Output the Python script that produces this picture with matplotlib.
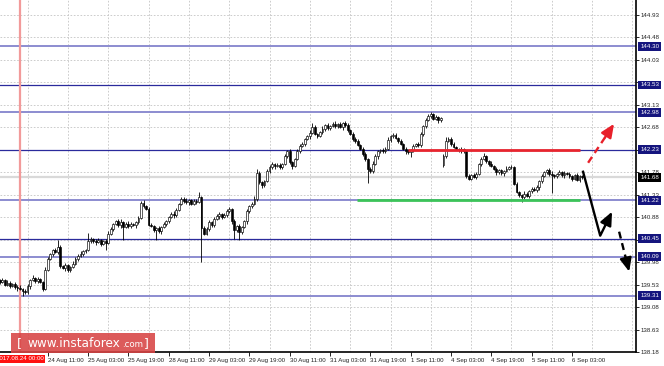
import numpy as np
import matplotlib.pyplot as plt
from matplotlib.patches import Rectangle

# Velas H1, indice 0 = 2017.08.24 00:00
first_index = -8
first_open = 139.62
closes = [
    139.59, 139.63, 139.53, 139.57, 139.51, 139.55, 139.49, 139.47,
    139.45, 139.41, 139.38,
    139.50, 139.62, 139.66, 139.60, 139.64, 139.58,
    139.45,
    139.83, 140.05,
    140.15, 140.22, 140.18, 140.28,
    139.90,
    139.86, 139.92, 139.82, 139.88, 139.95,
    140.05, 140.10, 140.15, 140.20, 140.22, 140.40,
    140.45, 140.40, 140.38, 140.42, 140.35, 140.40, 140.37,
    140.55, 140.65, 140.75, 140.80,
    140.72, 140.78, 140.68, 140.75, 140.70, 140.74, 140.72, 140.78,
    140.87,
    141.17, 141.10, 141.05,
    140.73,
    140.70, 140.62, 140.66, 140.60, 140.68,
    140.75, 140.80, 140.88, 140.95, 140.92, 141.03,
    141.15, 141.25, 141.20, 141.18, 141.22, 141.15, 141.20, 141.18, 141.28,
    140.67,
    140.55, 140.65, 140.78, 140.72, 140.85,
    140.90, 140.95, 140.88, 140.92, 141.00, 141.05,
    140.80, 140.62, 140.70, 140.58,
    140.68, 140.80,
    141.00, 141.10, 141.15, 141.25,
    141.77,
    141.58, 141.52, 141.60,
    141.80, 141.88, 141.95, 141.90, 141.93, 141.88,
    141.95, 142.10, 142.20,
    141.98, 141.90,
    142.05, 142.20, 142.30, 142.35, 142.45, 142.50,
    142.57, 142.69,
    142.55, 142.50, 142.58,
    142.65, 142.72, 142.66, 142.70, 142.75, 142.70, 142.74, 142.68, 142.76, 142.72,
    142.62, 142.55, 142.45, 142.40, 142.32, 142.25,
    142.15, 142.05,
    141.85, 141.80,
    141.95, 142.10, 142.20, 142.22,
    142.20, 142.25,
    142.43, 142.50, 142.52,
    142.47, 142.40, 142.35,
    142.25, 142.20, 142.18, 142.22,
    142.30, 142.35, 142.32,
    142.55, 142.70, 142.82,
    142.90, 142.95,
    142.85, 142.88, 142.82, 142.86,
    142.10,
    142.40, 142.45, 142.35,
    142.28, 142.25, 142.22, 142.24, 142.20,
    141.70,
    141.65, 141.72, 141.68, 141.75,
    141.95, 142.05, 142.10,
    142.00, 141.95, 141.90, 141.85,
    141.78, 141.82, 141.76, 141.80, 141.85, 141.88,
    141.88,
    141.55,
    141.38, 141.32, 141.28, 141.35, 141.30,
    141.40, 141.45, 141.42, 141.48,
    141.60, 141.70, 141.78, 141.82,
    141.75, 141.72, 141.70,
    141.75, 141.78, 141.72, 141.76, 141.74, 141.70,
    141.65, 141.72, 141.62, 141.70, 141.68,
]
# mechas en pips
wick_up = [
    3, 4, 2, 5, 3, 2, 4, 3, 5, 2, 3, 4, 2, 6, 3, 4, 2, 3, 5, 4,
    2, 3, 4, 3, 5, 2, 4, 3, 2, 6, 3, 4, 5, 2, 3, 4, 3, 2, 4, 5,
    3, 2, 4, 5, 3, 2, 3, 4, 6, 2, 3, 5, 4, 3, 2, 4, 3, 5, 2, 3,
    4, 3, 2, 5, 3, 4, 2, 3, 4, 5, 3, 2, 4, 3, 6, 2, 3, 4, 5, 3,
    2, 4, 3, 5, 2, 3, 4, 3, 2, 5, 4, 3, 2, 4, 3, 5, 3, 2, 4, 3,
    3, 5, 2, 4, 3, 2, 4, 5, 3, 2, 3, 4, 2, 5, 3, 4, 3, 2, 5, 4,
    4, 2, 3, 5, 3, 4, 2, 3, 5, 2, 4, 3, 3, 5, 2, 4, 3, 2, 4, 3,
    3, 4, 5, 2, 3, 4, 2, 3, 5, 4, 3, 2, 4, 3, 5, 2, 3, 4, 2, 5,
    2, 3, 4, 3, 5, 2, 4, 3, 2, 4, 5, 3, 2, 4, 3, 3, 5, 2, 4, 3,
    4, 3, 2, 5, 3, 2, 4, 3, 5, 4, 2, 3, 4, 3, 2, 5, 3, 4, 2, 3,
    3, 5, 2, 4, 3, 4, 2, 3, 5, 3, 2, 4, 3, 5, 2, 4, 3, 2, 4, 5,
    3, 2, 4, 3, 5, 2, 4, 3, 2, 4, 3, 2,
]
wick_dn = [
    4, 2, 3, 3, 5, 2, 4, 6, 3, 2, 4, 3, 5, 2, 3, 4, 2, 5, 3, 2,
    3, 5, 2, 4, 3, 2, 5, 3, 4, 2, 3, 4, 2, 5, 3, 2, 4, 3, 5, 2,
    4, 3, 5, 2, 3, 4, 2, 3, 5, 4, 2, 3, 4, 2, 5, 3, 3, 4, 2, 3,
    2, 4, 3, 3, 5, 2, 4, 3, 2, 5, 4, 3, 2, 3, 4, 5, 2, 3, 4, 2,
    5, 3, 2, 4, 3, 4, 2, 5, 3, 2, 4, 3, 5, 2, 3, 4, 3, 2, 5, 3,
    3, 2, 4, 3, 5, 3, 2, 4, 3, 5, 2, 4, 3, 2, 4, 3, 5, 2, 3, 4,
    2, 4, 3, 5, 2, 3, 4, 2, 3, 5, 4, 3, 2, 4, 3, 2, 5, 3, 4, 2,
    4, 3, 2, 3, 5, 4, 2, 3, 4, 2, 5, 3, 3, 4, 2, 5, 3, 2, 4, 3,
    3, 5, 4, 2, 3, 2, 4, 3, 5, 3, 2, 4, 3, 2, 5, 4, 3, 3, 2, 4,
    2, 3, 4, 5, 3, 4, 2, 3, 2, 4, 3, 5, 2, 3, 4, 2, 3, 5, 4, 3,
    5, 2, 3, 4, 3, 2, 4, 5, 3, 2, 4, 3, 2, 3, 5, 4, 2, 3, 4, 3,
    3, 4, 2, 3, 5, 2, 3, 4, 3, 2, 4, 3,
]
gap_opens = {168: 141.92}
spike_highs = {15: 140.43, 27: 140.57, 71: 141.39, 94: 141.85, 116: 142.76,
               129: 142.80, 148: 142.56, 163: 142.99, 169: 142.49, 184: 142.17}
spike_lows = {1: 139.31, 9: 139.40, 34: 140.23, 41: 140.43, 54: 140.43, 72: 139.99,
              85: 140.45, 87: 140.43, 138: 141.57, 155: 142.09, 168: 141.88,
              199: 141.19, 211: 141.37}

# ejes
tick_pos = [11, 27, 43, 59, 75, 91, 107, 123, 139, 155, 171, 187, 203, 219]
tick_labels = ['24 Aug 11:00', '25 Aug 03:00', '25 Aug 19:00', '28 Aug 11:00',
               '29 Aug 03:00', '29 Aug 19:00', '30 Aug 11:00', '31 Aug 03:00',
               '31 Aug 19:00', '1 Sep 11:00', '4 Sep 03:00', '4 Sep 19:00',
               '5 Sep 11:00', '6 Sep 03:00']
grid_x = [3, 19, 35, 51, 67, 83, 99, 115, 131, 147, 163, 179, 195, 211, 227, 243]
price_ticks = [138.18, 138.63, 139.08, 139.53, 139.98, 140.43, 140.88, 141.33,
               141.78, 142.23, 142.68, 143.13, 143.58, 144.03, 144.48, 144.93]
# etiquetas tapadas por las cajas de nivel
hidden_ticks = [140.43, 142.23, 143.58]

# niveles
levels_dark = [143.53, 142.23, 140.45]
levels_light = [144.30, 142.98, 141.22, 140.09, 139.31]
bid = 141.68
resistance = (154, 222.2, 142.23)
support = (133.7, 222, 141.22)

# escenarios (indice, precio)
up_arrow = [(225.4, 141.97), (235.7, 142.75)]
down_path = [(223.4, 141.79), (230.2, 140.51), (234.9, 140.99)]
down_arrow = [(237.7, 140.59), (241.7, 139.79)]

# --- construir OHLC ---
c = np.array(closes)
n = len(c)
idx = np.arange(first_index, first_index + n)
o = np.concatenate([[first_open], c[:-1]])
for k, v in gap_opens.items():
    o[k - first_index] = v
hi = np.maximum(o, c) + np.array(wick_up) / 100
lo = np.minimum(o, c) - np.array(wick_dn) / 100
for k, v in spike_highs.items():
    hi[k - first_index] = max(hi[k - first_index], v)
for k, v in spike_lows.items():
    lo[k - first_index] = min(lo[k - first_index], v)

fig = plt.figure(figsize=(6.64, 3.66), dpi=100)
ax = fig.add_axes([0, 14 / 366, 636 / 664, 352 / 366])
ax.set_xlim(-7.94, 244.4)
ax.set_ylim(138.19, 145.23)

for s in ['top', 'left']:
    ax.spines[s].set_visible(False)
for s in ['right', 'bottom']:
    ax.spines[s].set_color('black')
    ax.spines[s].set_linewidth(1.2)

# rejilla
for gx in grid_x:
    ax.axvline(gx, color='#c4c4c4', lw=0.6, ls=(0, (2, 2)), zorder=0)
for gy in price_ticks:
    ax.axhline(gy, color='#c4c4c4', lw=0.6, ls=(0, (2, 2)), zorder=0)

# niveles horizontales
for lv in levels_light:
    ax.axhline(lv, color='#8c8cd0', lw=1.4, zorder=1)
for lv in levels_dark:
    ax.axhline(lv, color='#2a2a9c', lw=0.9, zorder=1)
ax.axhline(bid, color='#d9d9d9', lw=1.6, zorder=1)
ax.axvline(0, color='#f29a9a', lw=1.6, zorder=1)

# velas
ax.vlines(idx, lo, hi, color='black', lw=0.6, zorder=3)
body = np.where(np.abs(c - o) < 0.01, 0.01, c - o)
bull = c >= o
ax.bar(idx[bull], body[bull], bottom=o[bull], width=0.72, color='white',
       edgecolor='black', lw=0.45, zorder=4)
ax.bar(idx[~bull], body[~bull], bottom=o[~bull], width=0.72, color='black',
       edgecolor='black', lw=0.45, zorder=4)

# soporte / resistencia
ax.plot(resistance[:2], [resistance[2]] * 2, color='#e8252e', lw=2, zorder=5,
        solid_capstyle='butt')
ax.plot(support[:2], [support[2]] * 2, color='#3cc35a', lw=2, zorder=5,
        solid_capstyle='butt')


def arrow(pts, color, dashed):
    xs = [p[0] for p in pts]
    ys = [p[1] for p in pts]
    ls = (0, (3, 2)) if dashed else '-'
    (x0, y0), (x1, y1) = pts[-2], pts[-1]
    xm = x1 - 0.35 * (x1 - x0)
    ym = y1 - 0.35 * (y1 - y0)
    ax.plot(xs[:-1] + [xm], ys[:-1] + [ym], color=color, lw=1.7, ls=ls, zorder=6)
    ax.annotate('', xy=(x1, y1), xytext=(xm, ym),
                arrowprops=dict(arrowstyle='-|>,head_length=0.8,head_width=0.35',
                                color=color, lw=1.7, shrinkA=0, shrinkB=0),
                zorder=6)


arrow(up_arrow, '#e8202a', True)
arrow(down_path, 'black', False)
arrow(down_arrow, 'black', True)

# etiquetas de ejes
fnt = 'Liberation Sans'
ax.yaxis.tick_right()
ax.set_yticks(price_ticks)
ax.set_yticklabels(['' if p in hidden_ticks else f'{p:.2f}' for p in price_ticks],
                   fontsize=4.4, family=fnt, color='#222222')
ax.tick_params(axis='y', length=2, width=0.6, pad=1.5)
ax.set_xticks(tick_pos)
ax.set_xticklabels(tick_labels, fontsize=4.4, family=fnt, color='#222222', ha='left')
ax.tick_params(axis='x', length=3, width=0.6, pad=1.5)

ytr = ax.get_yaxis_transform()
for lv in levels_light + levels_dark:
    ax.text(1.0065, lv, f'{lv:.2f}', transform=ytr, fontsize=4.4, family=fnt,
            color='white', va='center', ha='left', clip_on=False, zorder=10,
            bbox=dict(boxstyle='square,pad=0.3', fc='#15157e', ec='none'))
ax.text(1.0065, bid, f'{bid:.2f}', transform=ytr, fontsize=4.4, family=fnt,
        color='white', va='center', ha='left', clip_on=False, zorder=10,
        bbox=dict(boxstyle='square,pad=0.3', fc='black', ec='none'))

ax.text(0, -0.012, '2017.08.24 00:00', transform=ax.get_xaxis_transform(),
        fontsize=4.4, family=fnt, color='white', ha='center', va='top',
        clip_on=False, zorder=10,
        bbox=dict(boxstyle='square,pad=0.25', fc='#ff1010', ec='none'))

# logotipo
fig.add_artist(Rectangle((10.7 / 664, 13 / 366), 144.5 / 664, 20 / 366,
                         transform=fig.transFigure, fc='#d84444', ec='none',
                         alpha=0.88, zorder=20))
yb = 19 / 366
fig.text(17 / 664, yb, '[', fontsize=9, color='white', va='baseline', zorder=21)
fig.text(27.5 / 664, yb, 'www.instaforex', fontsize=8.7, color='white',
         va='baseline', zorder=21)
fig.text(122 / 664, yb, '.com', fontsize=6.2, color='white',
         va='baseline', zorder=21)
fig.text(144 / 664, yb, ']', fontsize=9, color='white', va='baseline', zorder=21)

fig.savefig('out.png', dpi=100)
